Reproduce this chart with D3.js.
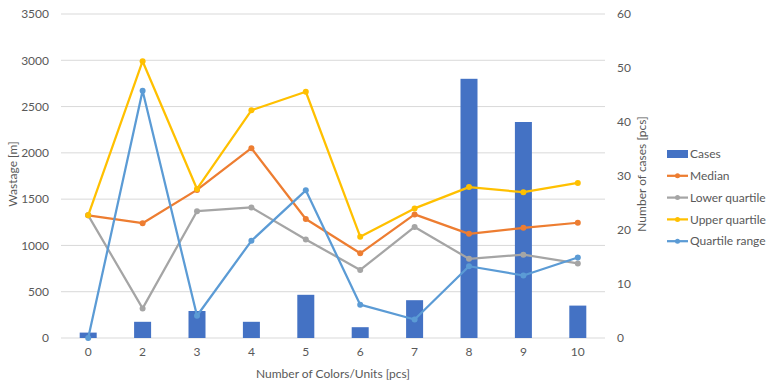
<!DOCTYPE html>
<html>
<head>
<meta charset="utf-8">
<script src="https://cdn.jsdelivr.net/npm/d3@7"></script>
<style>
  html, body { margin: 0; padding: 0; background: #fff; }
  svg { display: block; font-family: Lato, "Open Sans", sans-serif; }
</style>
</head>
<body>
<svg id="chart" width="769" height="381"></svg>
<script>
// Number of colours/units per job
const categories = ["0", "2", "3", "4", "5", "6", "7", "8", "9", "10"];
// Number of cases (right axis)
const cases = [1, 3, 5, 3, 8, 2, 7, 48, 40, 6];
// Wastage statistics in metres (left axis)
const median = [1325, 1240, 1600, 2050, 1285, 915, 1335, 1125, 1190, 1245];
const lowerQuartile = [1325, 320, 1370, 1410, 1065, 735, 1200, 855, 900, 805];
const upperQuartile = [1325, 2990, 1610, 2460, 2660, 1095, 1400, 1630, 1575, 1675];
const quartileRange = [0, 2670, 240, 1050, 1595, 360, 200, 775, 675, 870];

const leftTicks = [0, 500, 1000, 1500, 2000, 2500, 3000, 3500];
const rightTicks = [0, 10, 20, 30, 40, 50, 60];

const series = [
  { name: "Median", values: median, color: "#ED7D31" },
  { name: "Lower quartile", values: lowerQuartile, color: "#A5A5A5" },
  { name: "Upper quartile", values: upperQuartile, color: "#FFC000" },
  { name: "Quartile range", values: quartileRange, color: "#5B9BD5" }
];

const svg = d3.select("#chart");
const plot = { left: 61, right: 605, top: 14, bottom: 338 };
const textColor = "#595959";

const x = d3.scaleBand().domain(categories).range([plot.left, plot.right]).paddingInner(0).paddingOuter(0);
const yLeft = d3.scaleLinear().domain([0, 3500]).range([plot.bottom, plot.top]);
const yRight = d3.scaleLinear().domain([0, 60]).range([plot.bottom, plot.top]);

// Horizontal gridlines
svg.append("g").selectAll("line").data(leftTicks).join("line")
  .attr("x1", plot.left).attr("x2", plot.right)
  .attr("y1", d => yLeft(d)).attr("y2", d => yLeft(d))
  .attr("stroke", "#D9D9D9").attr("stroke-width", 1);

// Left axis
const gl = svg.append("g").attr("transform", `translate(${plot.left - 12},0)`)
  .call(d3.axisLeft(yLeft).tickValues(leftTicks).tickSize(0).tickPadding(0).tickFormat(d3.format("d")));
gl.select(".domain").remove();
gl.selectAll("text").attr("fill", textColor).style("font-size", "12px").style("font-family", "Lato, sans-serif");

// Right axis
const gr = svg.append("g").attr("transform", `translate(${plot.right + 12},0)`)
  .call(d3.axisRight(yRight).tickValues(rightTicks).tickSize(0).tickPadding(0));
gr.select(".domain").remove();
gr.selectAll("text").attr("fill", textColor).style("font-size", "12px").style("font-family", "Lato, sans-serif");

// Bottom axis
const gb = svg.append("g").attr("transform", `translate(0,${plot.bottom + 9})`)
  .call(d3.axisBottom(x).tickSize(0).tickPadding(0));
gb.select(".domain").remove();
gb.selectAll("text").attr("fill", textColor).attr("dy", "0.71em").style("font-size", "12px").style("font-family", "Lato, sans-serif");

// Bars for number of cases
const barW = x.bandwidth() / 3.2;
svg.append("g").selectAll("rect").data(cases).join("rect")
  .attr("x", (d, i) => x(categories[i]) + (x.bandwidth() - barW) / 2)
  .attr("width", barW)
  .attr("y", d => yRight(d))
  .attr("height", d => yRight(0) - yRight(d))
  .attr("fill", "#4472C4");

// Lines with markers
const cx = i => x(categories[i]) + x.bandwidth() / 2;
const line = d3.line().x((d, i) => cx(i)).y(d => yLeft(d));
series.forEach(s => {
  const g = svg.append("g");
  g.append("path").datum(s.values).attr("d", line)
    .attr("fill", "none").attr("stroke", s.color).attr("stroke-width", 2.25)
    .attr("stroke-linejoin", "round").attr("stroke-linecap", "round");
  g.selectAll("circle").data(s.values).join("circle")
    .attr("cx", (d, i) => cx(i)).attr("cy", d => yLeft(d)).attr("r", 3)
    .attr("fill", s.color);
});

// Axis titles
svg.append("text").attr("transform", `translate(17,${(plot.top + plot.bottom) / 2 - 2}) rotate(-90)`)
  .attr("text-anchor", "middle").attr("fill", textColor).style("font-size", "12px")
  .text("Wastage [m]");
svg.append("text").attr("transform", `translate(646,${(plot.top + plot.bottom) / 2 - 2}) rotate(-90)`)
  .attr("text-anchor", "middle").attr("fill", textColor).style("font-size", "12px")
  .text("Number of cases [pcs]");
svg.append("text").attr("x", (plot.left + plot.right) / 2).attr("y", 378)
  .attr("text-anchor", "middle").attr("fill", textColor).style("font-size", "12px")
  .text("Number of Colors/Units [pcs]");

// Legend
const legendItems = [{ name: "Cases", color: "#4472C4", bar: true }].concat(series);
const lg = svg.append("g").attr("transform", "translate(667,154)");
legendItems.forEach((d, i) => {
  const row = lg.append("g").attr("transform", `translate(0,${i * 21.8})`);
  if (d.bar) {
    row.append("rect").attr("x", 0).attr("y", -4).attr("width", 21).attr("height", 8).attr("fill", d.color);
  } else {
    row.append("line").attr("x1", 0).attr("x2", 21).attr("y1", 0).attr("y2", 0)
      .attr("stroke", d.color).attr("stroke-width", 2.25);
    row.append("circle").attr("cx", 10.5).attr("cy", 0).attr("r", 2.5).attr("fill", d.color);
  }
  row.append("text").attr("x", 23).attr("y", 0).attr("dy", "0.35em")
    .attr("fill", textColor).style("font-size", "12px").text(d.name);
});
</script>
</body>
</html>
